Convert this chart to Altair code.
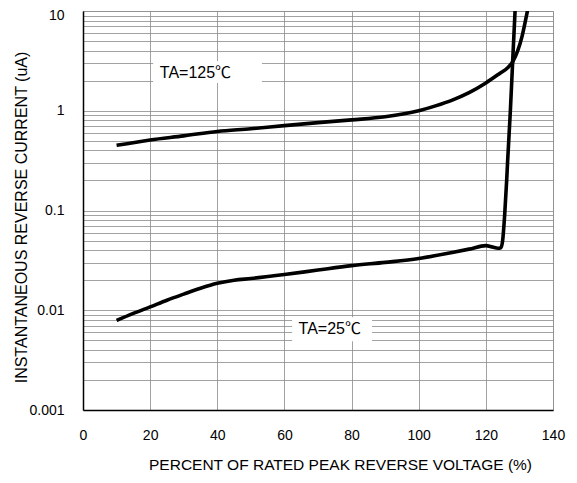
import altair as alt
import pandas as pd

# 125 C curve
x125 = [10, 20, 30, 40, 50, 60, 70, 80, 90, 100, 105, 110, 115, 120, 124, 126.5, 128, 129.5, 130.8, 131.8, 132.6, 133.2]
y125 = [0.45, 0.51, 0.56, 0.62, 0.66, 0.71, 0.76, 0.81, 0.87, 1.0, 1.12, 1.28, 1.52, 1.9, 2.35, 2.7, 3.1, 4.0, 5.6, 8.0, 11.0, 15.0]

# 25 C curve
x25 = [10, 15, 20, 25, 30, 35, 40, 45, 50, 60, 70, 80, 90, 100, 110, 115, 120, 122, 123.6, 124.5, 125.0, 125.6, 126.2, 126.5, 127.3, 128.0, 128.7, 129.2]
y25 = [0.0079, 0.0093, 0.0108, 0.0126, 0.0145, 0.0166, 0.0186, 0.0200, 0.0208, 0.0228, 0.0253, 0.0280, 0.0302, 0.0330, 0.0380, 0.0410, 0.0445, 0.0430, 0.0418, 0.0425, 0.050, 0.090, 0.20, 0.32, 1.0, 3.2, 10.0, 20.0]

x_ticks = [0, 20, 40, 60, 80, 100, 120, 140]
y_decades = [0.001, 0.01, 0.1, 1, 10]
y_minor = [0.002, 0.003, 0.004, 0.005, 0.006, 0.007, 0.008, 0.009,
           0.02, 0.03, 0.04, 0.05, 0.06, 0.07, 0.08, 0.09,
           0.2, 0.3, 0.4, 0.5, 0.6, 0.7, 0.8, 0.9,
           2, 3, 4, 5, 6, 7, 8, 9]

ann_text = ["TA=125℃", "TA=25℃"]
ann_x = [33.5, 73.5]
ann_y = [2.4, 0.0065]
box_x1 = [20.9, 62.3]
box_x2 = [53.3, 86.1]
box_y1 = [1.9, 0.0049]
box_y2 = [3.16, 0.0085]

curves = pd.DataFrame({
    "x": x125 + x25,
    "y": y125 + y25,
    "series": ["125"] * len(x125) + ["25"] * len(x25),
    "order": list(range(len(x125))) + list(range(len(x25))),
})
ann = pd.DataFrame({"text": ann_text, "x": ann_x, "y": ann_y,
                    "x1": box_x1, "x2": box_x2, "y1": box_y1, "y2": box_y2})

FONT = "Liberation Sans, Arial, Noto Sans CJK SC"

xscale = alt.Scale(domain=[0, 140], nice=False, zero=False)
yscale = alt.Scale(type="log", domain=[0.001, 10], nice=False)

xaxis = alt.Axis(values=x_ticks, title="PERCENT OF RATED PEAK REVERSE VOLTAGE (%)",
                 grid=True, gridColor="#8a8a8a", gridWidth=0.8, ticks=False,
                 labelFlush=False,
                 labelPadding=18, labelFontSize=14, labelFont=FONT, labelColor="black",
                 domainColor="black", domainWidth=1.5,
                 titleFont=FONT, titleFontSize=15.5, titleFontWeight="normal", titleColor="black",
                 titleX=257, titleY=54, titleBaseline="middle", titleAlign="center")

yaxis = alt.Axis(values=y_decades + y_minor,
                 labelExpr="indexof([0.001,0.01,0.1,1,10], datum.value) >= 0 ? format(datum.value, '~g') : ''",
                 labelOffset=alt.ExprRef("datum.value >= 10 ? 4 : 0"),
                 title="INSTANTANEOUS REVERSE CURRENT (uA)",
                 grid=True, gridColor="#8a8a8a", gridWidth=0.8, ticks=False,
                 labelFlush=False,
                 labelPadding=19, labelFontSize=14, labelFont=FONT, labelColor="black",
                 domainColor="black", domainWidth=1.5,
                 titleFont=FONT, titleFontSize=16, titleFontWeight="normal", titleColor="black",
                 titleX=-62, titleY=206, titleBaseline="middle", titleAlign="center", titleAngle=-90)

lines = alt.Chart(curves).mark_line(color="black", strokeWidth=3.6, clip=True, interpolate="monotone").encode(
    x=alt.X("x:Q", scale=xscale, axis=xaxis),
    y=alt.Y("y:Q", scale=yscale, axis=yaxis),
    detail="series:N",
    order="order:Q",
)

boxes = alt.Chart(ann).mark_rect(color="white", opacity=1).encode(
    x=alt.X("x1:Q", scale=xscale), x2="x2:Q",
    y=alt.Y("y1:Q", scale=yscale), y2="y2:Q",
)

labels = alt.Chart(ann).mark_text(font=FONT, fontSize=16, color="black", align="center", baseline="middle").encode(
    x=alt.X("x:Q", scale=xscale), y=alt.Y("y:Q", scale=yscale), text="text:N",
)

chart = alt.layer(boxes, lines, labels).properties(
    width=470, height=399,
    autosize=alt.AutoSizeParams(type="none"),
    padding={"left": 75, "top": 3, "right": 16, "bottom": 64},
    background="white",
).configure_view(stroke="#b0b0b0", strokeWidth=1)

chart.save("out.html", embed_options={"renderer": "svg", "actions": False})
